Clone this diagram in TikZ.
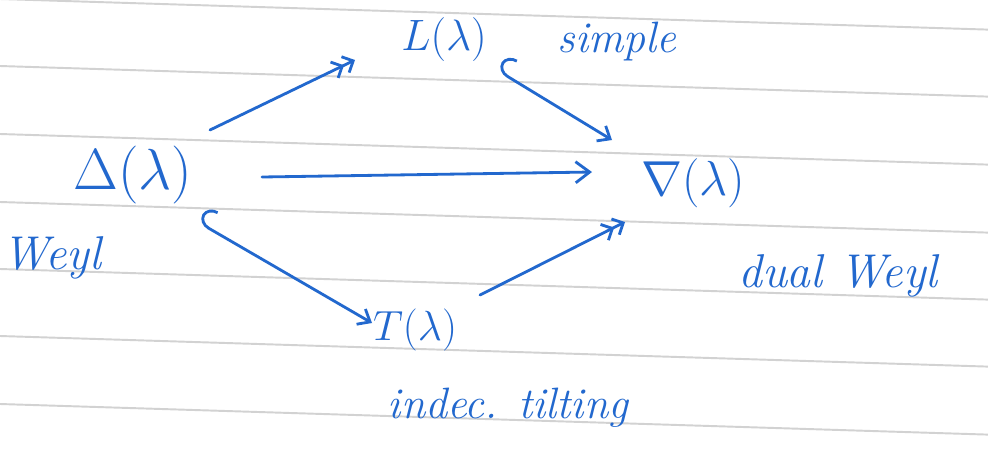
\RequirePackage{fix-cm}
\documentclass[tikz,border=0pt]{standalone}
\usetikzlibrary{arrows.meta}
\definecolor{ink}{RGB}{34,104,206}
\definecolor{rulegray}{RGB}{210,210,210}
\newcommand\fsz[1]{\fontsize{#1}{#1}\selectfont}
\tikzset{
  sym/.style={text=ink, inner sep=0pt},
  note/.style={text=ink, inner sep=0pt},
  conn/.style={draw=ink, line width=1.6pt, line cap=round, line join=round},
  into/.style={conn, -{Straight Barb[length=8pt,width=12pt]}},
  onto/.style={conn, -{Straight Barb[length=5pt,width=10pt] Straight Barb[length=5pt,width=10pt]}},
  incl/.style={conn, {Hooks[right,length=7pt,width=22pt]}-{Straight Barb[length=6pt,width=10pt]}},
  ruling/.style={draw=rulegray, line width=1.1pt}
}
\begin{document}
\begin{tikzpicture}[x=0.02cm,y=-0.02cm]
  \useasboundingbox (0,0) rectangle (988,454);
  \fill[white] (0,0) rectangle (988,454);
  % ruled lines of the notebook page
  \foreach \y in {-1,66,134,202,269,336,404}
    \draw[ruling] (0,\y) -- (988,\y+30.6);

  % modules
  \node[sym, font=\fsz{33pt}] (D) at (133,175) {$\Delta(\lambda)$};
  \node[sym, font=\fsz{25pt}] (L) at (444,40)  {$L(\lambda)$};
  \node[sym, font=\fsz{28pt}] (N) at (693,183) {$\nabla(\lambda)$};
  \node[sym, font=\fsz{24pt}] (T) at (415,330) {$T(\lambda)$};

  % annotations
  \node[note, font=\fsz{27pt}\itshape] (wl) at (52,258)  {Weyl};
  \node[note, font=\fsz{25pt}\itshape] (sl) at (617,42)  {simple};
  \node[note, font=\fsz{27pt}\itshape] (dw) at (838,276) {dual Weyl};
  \node[note, font=\fsz{25pt}\itshape] (it) at (508,408) {indec. tilting};

  % maps
  \draw[onto] ([shift={(77,-45)}]D.center) -- ([shift={(-89,20)}]L.center);
  \draw[incl] ([shift={(53,30)}]L.center) -- ([shift={(-81,-43)}]N.center);
  \draw[into] ([shift={(129,2)}]D.center) -- ([shift={(-101,-11)}]N.center);
  \draw[incl] ([shift={(65,47)}]D.center) -- ([shift={(-43,-7)}]T.center);
  \draw[onto] ([shift={(65,-35)}]T.center) -- ([shift={(-68,39)}]N.center);
\end{tikzpicture}
\end{document}
